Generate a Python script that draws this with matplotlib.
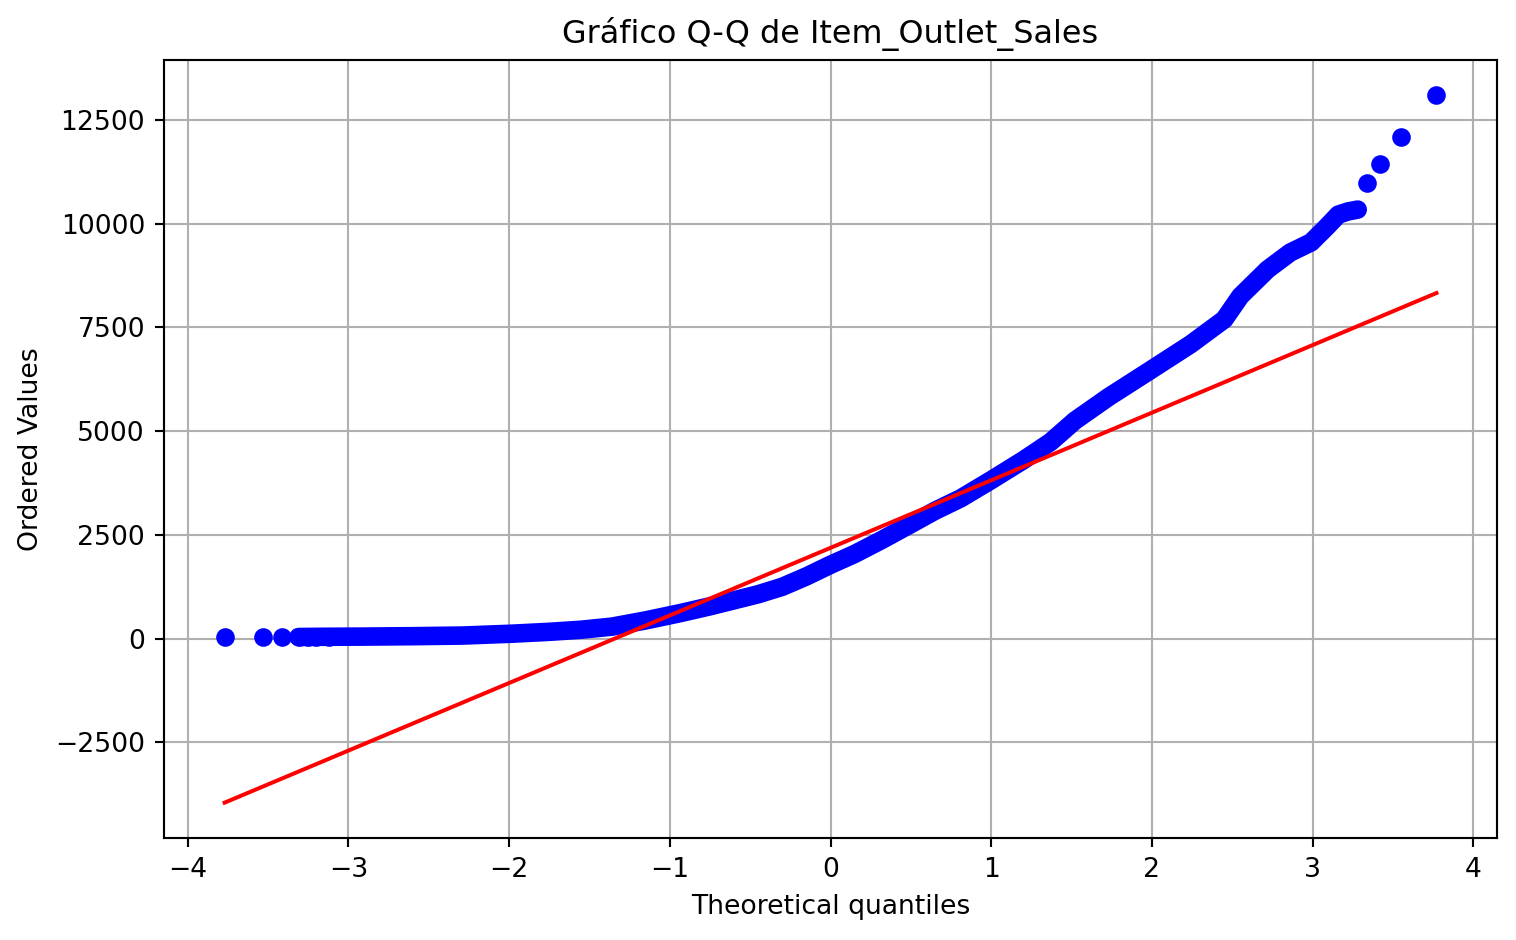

import matplotlib
matplotlib.use("Agg")
import matplotlib.pyplot as plt
import numpy as np

# ordered sample vs theoretical normal quantiles (dense band)
band_q = [-3.31, -3.25, -3.20, -3.12, -2.91, -2.60, -2.29, -1.98, -1.75, -1.55,
          -1.36, -1.15, -0.93, -0.75, -0.61, -0.45, -0.30, -0.15, 0.00, 0.15,
          0.32, 0.50, 0.65, 0.81, 1.00, 1.20, 1.37, 1.52, 1.73, 2.00, 2.24,
          2.45, 2.55, 2.72, 2.86, 2.99, 3.09, 3.16, 3.22, 3.28]
band_v = [40, 42, 44, 46, 50, 60, 75, 120, 165, 216,
          290, 440, 620, 780, 915, 1070, 1250, 1500, 1780, 2040,
          2380, 2760, 3080, 3380, 3820, 4300, 4740, 5250, 5820, 6490, 7090,
          7690, 8250, 8895, 9300, 9545, 9930, 10215, 10290, 10335]

# isolated extreme points
tail_q = [-3.77, -3.53, -3.41, 3.34, 3.42, 3.55, 3.77]
tail_v = [33, 37, 40, 10985, 11445, 12095, 13087]

# least-squares fit line reported by probplot
slope = 1628.0
intercept = 2188.0

scale = 0.957  # reference text renders a bit smaller than default at 200 dpi
plt.rcParams["font.size"] = 10 * scale
plt.rcParams["axes.titlesize"] = 12 * scale

fig = plt.figure(figsize=(7.58, 4.70), dpi=200)
ax = fig.add_axes([0.1082, 0.1085, 0.8793, 0.8277])

ax.plot(band_q, band_v, "-", color="blue", linewidth=7 * scale,
        solid_capstyle="round", solid_joinstyle="round")
dots_q = band_q[:4] + tail_q
dots_v = band_v[:4] + tail_v
ax.plot(dots_q, dots_v, "bo", markersize=6 * scale, markeredgewidth=scale)

q_all = np.array(band_q + tail_q)
x_fit = np.array([q_all.min(), q_all.max()])
ax.plot(x_fit, slope * x_fit + intercept, "r-", linewidth=1.5 * scale)

ax.set_title("Gráfico Q-Q de Item_Outlet_Sales")
ax.set_xlabel("Theoretical quantiles")
ax.set_ylabel("Ordered Values")
ax.grid(True, linewidth=0.8 * scale)
for s in ax.spines.values():
    s.set_linewidth(0.8 * scale)
ax.tick_params(width=0.8 * scale, length=3.5 * scale)

fig.savefig("out.png", dpi=200)
